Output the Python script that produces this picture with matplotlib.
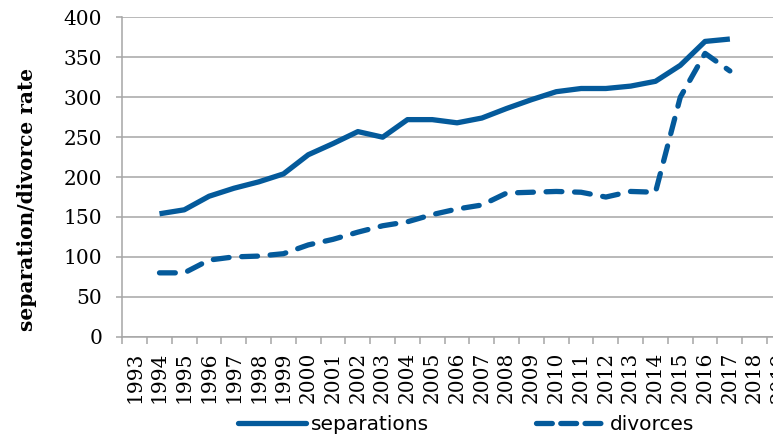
import matplotlib
matplotlib.use('Agg')
import matplotlib.pyplot as plt
from matplotlib.lines import Line2D
import numpy as np

years = [str(y) for y in range(1993, 2020)]
data_years = list(range(1994, 2018))
separations = [154, 159, 176, 186, 194, 204, 228, 242, 257, 250, 272, 272, 268, 274,
               286, 297, 307, 311, 311, 314, 320, 340, 370, 373]
divorces = [80, 80, 96, 100, 101, 104, 115, 122, 131, 139, 144, 153, 160, 165,
            180, 181, 182, 181, 175, 182, 181, 300, 355, 333]

BLUE = '#045A9B'
GRID = '#A6A6A6'

fig = plt.figure(figsize=(7.73, 4.38), dpi=100)
# axes run past the right edge, the original picture is cropped there
ax = fig.add_axes([0.1582, 0.2313, 0.8662, 0.7288])

x = np.array([years.index(str(y)) for y in data_years])
ax.plot(x, separations, color=BLUE, lw=3.8, solid_capstyle='butt', solid_joinstyle='round')
ax.plot(x, divorces, color=BLUE, lw=3.8, linestyle=(0, (3, 2.4)),
        dash_capstyle='round', dash_joinstyle='round')

ax.set_xlim(-0.5, len(years) - 0.5)
ax.set_ylim(0, 400)
ax.set_yticks(range(0, 401, 50))
ax.grid(axis='y', color=GRID, lw=1.1)
ax.set_axisbelow(True)

for s in ['top', 'right']:
    ax.spines[s].set_visible(False)
for s in ['left', 'bottom']:
    ax.spines[s].set_color(GRID)
    ax.spines[s].set_linewidth(1.1)

# category boundaries get the tick marks, labels sit in the middle
ax.set_xticks(np.arange(-0.5, len(years), 1))
ax.set_xticklabels([])
ax.set_xticks(np.arange(len(years)), minor=True)
ax.set_xticklabels(years, minor=True, rotation=90, family='DejaVu Serif', fontsize=14.5)
ax.tick_params(axis='x', which='major', length=5, width=1.1, color=GRID, direction='out')
ax.tick_params(axis='x', which='minor', length=0, pad=10.5)
ax.tick_params(axis='y', length=4, width=1.1, color=GRID, pad=10.5)
for t in ax.get_yticklabels():
    t.set_family('DejaVu Serif')
    t.set_fontsize(14.5)

ax.set_ylabel('separation/divorce rate', family='DejaVu Serif', fontweight='bold', fontsize=14.5)
ax.yaxis.set_label_coords(-0.128, 0.43)

handles = [Line2D([], [], color=BLUE, lw=3.8, solid_capstyle='round'),
           Line2D([], [], color=BLUE, lw=3.8, linestyle=(0, (3, 1.6)), dash_capstyle='round')]
fig.legend(handles, ['separations', 'divorces'], ncol=2, frameon=False,
           loc='center', bbox_to_anchor=(466 / 773, 1 - 425 / 438),
           prop={'family': 'DejaVu Sans', 'size': 14.5},
           handlelength=3.4, handletextpad=0.25, columnspacing=5.3)

fig.savefig('out.png', dpi=100)
